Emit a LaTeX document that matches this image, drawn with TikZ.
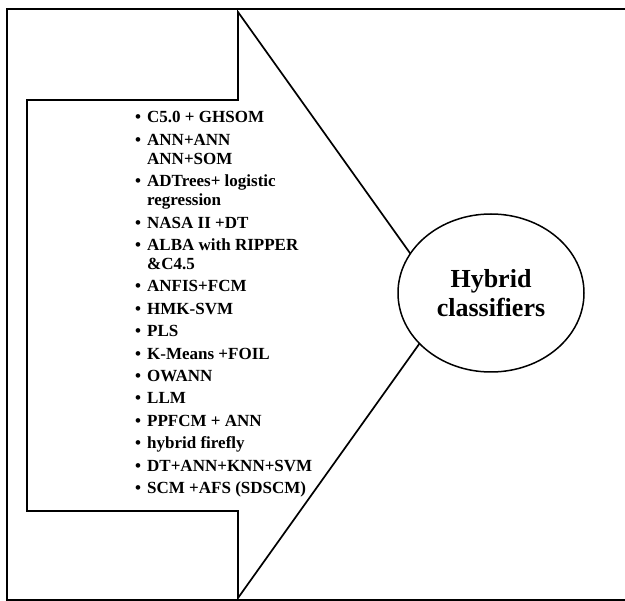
\documentclass[tikz,border=0pt]{standalone}
\usepackage{fontspec}
\setmainfont{Liberation Serif}
\usetikzlibrary{shapes.geometric}
% bullet with a fixed-width box so wrapped lines hang under the text
\newcommand\itembul{\makebox[12pt][l]{\textbullet}}
\begin{document}
\begin{tikzpicture}[x=1pt,y=-1pt,
  frameline/.style={line width=2pt},
  arrowline/.style={line width=1.7pt, line join=miter},
  itemtext/.style={anchor=base west, inner sep=0pt, font=\bfseries\fontsize{17}{19}\selectfont},
  hub/.style={ellipse, draw, line width=1.5pt, fill=white, minimum width=186pt,
    minimum height=158pt, inner sep=0pt, align=center,
    font=\bfseries\fontsize{26}{29}\selectfont}]
\useasboundingbox (0,0) rectangle (625,601);

% outer frame (open on the right)
\draw[frameline] (640,9) -- (7,9) -- (7,600) -- (640,600);

% big block arrow
\draw[arrowline] (27,100) -- (238,100) -- (238,12) -- (447,305) -- (238,598)
  -- (238,511) -- (27,511) -- cycle;

% list of hybrid methods
\foreach \y/\x/\t [count=\i] in {
  123/135/{\itembul C5.0 + GHSOM},
  145.4/135/{\itembul ANN+ANN},
  164.4/147/{ANN+SOM},
  186.8/135/{\itembul ADTrees+ logistic},
  205.8/147/{regression},
  228.2/135/{\itembul NASA II +DT},
  250.6/135/{\itembul ALBA with RIPPER},
  269.6/147/{\&C4.5},
  292/135/{\itembul ANFIS+FCM},
  314.4/135/{\itembul HMK-SVM},
  336.8/135/{\itembul PLS},
  359.2/135/{\itembul K-Means +FOIL},
  381.6/135/{\itembul OWANN},
  404/135/{\itembul LLM},
  426.4/135/{\itembul PPFCM + ANN},
  448.8/135/{\itembul hybrid firefly},
  471.2/135/{\itembul DT+ANN+KNN+SVM},
  493.6/135/{\itembul SCM +AFS (SDSCM)}}
  \node[itemtext] (line\i) at (\x,\y) {\t};

% target ellipse covering the arrow tip
\node[hub] (hybrid) at (491,293) {Hybrid\\classifiers};
\end{tikzpicture}
\end{document}
